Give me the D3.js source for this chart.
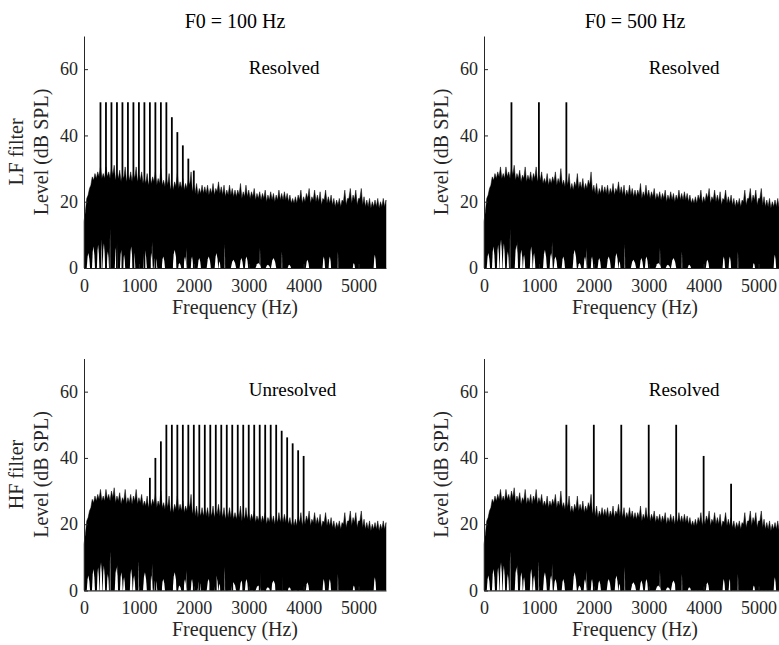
<!DOCTYPE html>
<html>
<head>
<meta charset="utf-8">
<script src="https://cdn.jsdelivr.net/npm/d3@7"></script>
<style>
  body { margin: 0; background: #fff; }
  svg text { font-family: "Liberation Serif", "Times New Roman", serif; }
</style>
</head>
<body>
<svg id="chart" width="779" height="645"></svg>
<script>
// Noise floor peaks, one value every 50 Hz (0..5500 Hz)
var peakFreqs = d3.range(0, 5501, 50);
var noisePeaks = [
  14, 21, 24, 27.5, 28.5, 29, 30.5, 28.5, 30.5, 29,
  30, 31, 28.5, 29.5, 28, 30.5, 28, 29, 28.5, 30.5,
  28, 29, 27, 28.5, 27, 27.5, 29, 27, 30, 26.5,
  27, 28.5, 25.5, 26, 28.5, 26, 27, 25.5, 26.5, 29,
  25, 25.5, 24, 25, 24.5, 25, 24, 25.5, 24, 26,
  24.5, 25, 23.5, 25, 24, 23.5, 23.5, 25.5, 23, 25,
  23.5, 23, 24, 22.5, 23, 22.5, 23.5, 22, 23, 22.5,
  22, 23.5, 22.5, 23, 22.5, 22, 21, 21.5, 22, 23.5,
  21.5, 22.5, 24, 21.5, 23.5, 22, 23, 21, 23.5, 21.5,
  22, 21, 20.5, 21, 20.5, 23.5, 21, 24, 22, 23.5,
  21, 24, 21.5, 20.5, 21, 20, 20.5, 21, 20, 21, 20.5
];

// Noise floor troughs between the peaks (25, 75, ... 5475 Hz)
var dipFreqs = d3.range(25, 5500, 50);
var noiseDips = [
  17, 22, 25, 26.5, 27, 27.5, 27, 27, 27.5, 27,
  28, 26.5, 27, 26, 27, 26, 26.5, 26, 27, 26,
  26.5, 25.5, 25.5, 25, 25.5, 26, 25, 25.5, 25, 24.5,
  25, 23.5, 23.5, 24.5, 24, 24, 23.5, 24, 25, 23,
  22.5, 22, 22.5, 22.5, 22.5, 22, 22.5, 22, 23, 22.5,
  22, 21.5, 22, 22, 21.5, 21.5, 22, 21, 21.5, 21.5,
  21, 21.5, 20.5, 21, 20.5, 21, 20, 20.5, 20.5, 20,
  20.5, 20.5, 20.5, 20.5, 20, 19.5, 19.5, 19.5, 20.5, 19.5,
  20, 21, 19.5, 20.5, 20, 20, 19, 20.5, 19.5, 19.5,
  19, 18.5, 19, 18.5, 20, 19, 21, 19.5, 20.5, 19,
  21, 19, 18.5, 18.5, 18, 18.5, 18.5, 18, 18.5, 18.5
];

// White gaps at the bottom of the noise: [start Hz, end Hz, top dB]
var noiseGaps = [
  [50, 110, 4.5], [145, 200, 6.5], [235, 280, 7], [285, 335, 8.5], [340, 385, 7.5],
  [415, 455, 5], [470, 482, 12], [560, 620, 7], [605, 615, 8], [655, 705, 5.5],
  [710, 750, 4], [835, 885, 6.5], [890, 935, 4.5], [985, 996, 9], [1075, 1145, 5.5],
  [1195, 1250, 4.5], [1235, 1245, 8], [1270, 1335, 3.5], [1415, 1475, 3.5], [1615, 1690, 5.5],
  [1710, 1770, 1.5], [1815, 1865, 3.5], [1868, 1878, 6], [1945, 1990, 3.5], [2070, 2130, 3],
  [2235, 2310, 3.5], [2380, 2445, 4.5], [2450, 2485, 2], [2560, 2570, 7], [2675, 2770, 2.5],
  [2835, 2900, 3], [2930, 2990, 3.5], [3125, 3225, 1.5], [3200, 3210, 6], [3310, 3390, 1],
  [3405, 3500, 3], [3600, 3610, 5], [3710, 3770, 1], [4040, 4100, 2.5], [4345, 4390, 3.5],
  [4455, 4500, 3.5], [4620, 4630, 5], [4895, 4935, 1.5], [5275, 5320, 4]
];

// Harmonic components (Hz, dB SPL) for each panel
var lf100Freqs  = [300, 400, 500, 600, 700, 800, 900, 1000, 1100, 1200, 1300, 1400, 1500, 1600, 1700, 1800, 1900, 2000];
var lf100Levels = [50, 50, 50, 50, 50, 50, 50, 50, 50, 50, 50, 50, 50, 45.5, 41, 37, 33, 29.4];

var lf500Freqs  = [500, 1000, 1500];
var lf500Levels = [50, 50, 50];

var hf100Freqs  = [1200, 1300, 1400, 1500, 1600, 1700, 1800, 1900, 2000, 2100, 2200, 2300, 2400, 2500, 2600,
                   2700, 2800, 2900, 3000, 3100, 3200, 3300, 3400, 3500, 3600, 3700, 3800, 3900, 4000];
var hf100Levels = [34, 40, 45, 50, 50, 50, 50, 50, 50, 50, 50, 50, 50, 50, 50,
                   50, 50, 50, 50, 50, 50, 50, 50, 50, 48.2, 46.2, 44.4, 42.3, 40.6];

var hf500Freqs  = [1500, 2000, 2500, 3000, 3500, 4000, 4500];
var hf500Levels = [50, 50, 50, 50, 50, 40.6, 32.2];

var xTicks = [0, 1000, 2000, 3000, 4000, 5000],
    yTicks = [0, 20, 40, 60];

(function (d3) {
  'use strict';

  var svg = d3.select('#chart'),
      axisColor = '#262626',
      plotW = 302,
      plotH = 232;

  // Interleave peaks and troughs into one jagged noise edge
  var noiseEdge = [];
  peakFreqs.forEach(function (f, i) {
    noiseEdge.push([f, noisePeaks[i]]);
    if (i < dipFreqs.length) noiseEdge.push([dipFreqs[i], noiseDips[i]]);
  });

  var panels = [
    {left: 84,  top: 36,    title: 'F0 = 100 Hz', row: 'LF filter', label: 'Resolved',   freqs: lf100Freqs, levels: lf100Levels},
    {left: 484, top: 36,    title: 'F0 = 500 Hz', row: null,        label: 'Resolved',   freqs: lf500Freqs, levels: lf500Levels},
    {left: 84,  top: 358.5, title: null,          row: 'HF filter', label: 'Unresolved', freqs: hf100Freqs, levels: hf100Levels},
    {left: 484, top: 358.5, title: null,          row: null,        label: 'Resolved',   freqs: hf500Freqs, levels: hf500Levels}
  ];

  panels.forEach(function (p) {
    var x = d3.scaleLinear().domain([0, 5500]).range([0, plotW]),
        y = d3.scaleLinear().domain([0, 70]).range([plotH, 0]);

    var g = svg.append('g')
      .attr('transform', 'translate(' + p.left + ',' + p.top + ')');

    // Dense noise spectrum
    var area = d3.area()
      .x(function (d) { return x(d[0]); })
      .y0(y(0))
      .y1(function (d) { return y(d[1]); });

    g.append('path')
      .datum(noiseEdge)
      .attr('d', area)
      .style('fill', '#000')
      .style('stroke', '#000')
      .style('stroke-width', 0.5);

    // Gaps in the noise near 0 dB (drawn as thin white spikes)
    g.selectAll('.gap')
      .data(noiseGaps)
      .enter().append('path')
        .attr('class', 'gap')
        .attr('d', function (d) {
          var x0 = x(d[0]), x1 = x(d[1]), xm = (x0 + x1) / 2;
          return 'M' + x0 + ',' + y(0) +
                 'L' + (x0 + (xm - x0) * 0.5) + ',' + y(d[2] * 0.75) +
                 'L' + xm + ',' + y(d[2]) +
                 'L' + (xm + (x1 - xm) * 0.6) + ',' + y(d[2] * 0.6) +
                 'L' + x1 + ',' + y(0) + 'Z';
        })
        .style('fill', '#fff');

    // Harmonics
    g.selectAll('.harm')
      .data(p.freqs)
      .enter().append('line')
        .attr('class', 'harm')
        .attr('x1', function (d) { return x(d); })
        .attr('x2', function (d) { return x(d); })
        .attr('y1', y(0))
        .attr('y2', function (d, i) { return y(p.levels[i]); })
        .style('stroke', '#000')
        .style('stroke-width', 1.8);

    // Axes (left and bottom only, ticks pointing inward)
    var xAxis = d3.axisBottom(x).tickValues(xTicks).tickFormat(d3.format('d'))
                  .tickSizeInner(-4).tickSizeOuter(0),
        yAxis = d3.axisLeft(y).tickValues(yTicks).tickFormat(d3.format('d'))
                  .tickSizeInner(-4).tickSizeOuter(0);

    var gx = g.append('g')
      .attr('transform', 'translate(0,' + plotH + ')')
      .call(xAxis);
    var gy = g.append('g').call(yAxis);

    [gx, gy].forEach(function (a) {
      a.select('.domain').style('stroke', axisColor).style('stroke-width', 1);
      a.selectAll('.tick line').style('stroke', axisColor);
      a.selectAll('.tick text')
        .style('font-family', '"Liberation Serif", serif')
        .style('font-size', '18px')
        .style('fill', axisColor);
    });
    gx.selectAll('.tick text').attr('y', 10).attr('dy', '0.75em');
    gy.selectAll('.tick text').attr('x', -6);

    // Labels
    g.append('text')
      .attr('x', plotW / 2)
      .attr('y', plotH + 41)
      .attr('text-anchor', 'middle')
      .attr('dominant-baseline', 'middle')
      .style('font-size', '20px')
      .style('fill', axisColor)
      .text('Frequency (Hz)');

    g.append('text')
      .attr('transform', 'translate(-41,' + plotH / 2 + ') rotate(-90)')
      .attr('text-anchor', 'middle')
      .attr('dominant-baseline', 'middle')
      .style('font-size', '20px')
      .style('fill', axisColor)
      .text('Level (dB SPL)');

    if (p.row) {
      g.append('text')
        .attr('transform', 'translate(-66,' + plotH / 2 + ') rotate(-90)')
        .attr('text-anchor', 'middle')
        .attr('dominant-baseline', 'middle')
        .style('font-size', '20px')
        .style('fill', axisColor)
        .text(p.row);
    }

    if (p.title) {
      g.append('text')
        .attr('x', plotW / 2)
        .attr('y', -13)
        .attr('text-anchor', 'middle')
        .attr('dominant-baseline', 'middle')
        .style('font-size', '20px')
        .style('fill', '#000')
        .text(p.title);
    }

    g.append('text')
      .attr('x', x(3000))
      .attr('y', y(60))
      .attr('dominant-baseline', 'middle')
      .style('font-size', '19px')
      .style('fill', '#000')
      .text(p.label);
  });
}(d3));
</script>
</body>
</html>
